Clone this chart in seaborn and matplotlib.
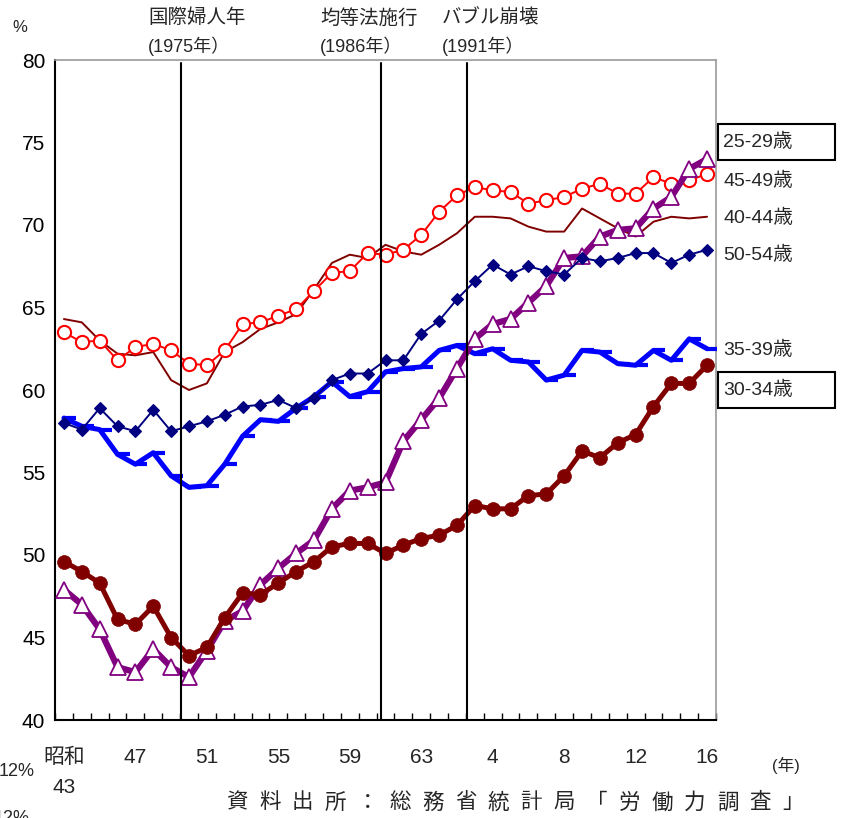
import numpy as np
import matplotlib
matplotlib.use("Agg")
import matplotlib.pyplot as plt
import seaborn as sns
from matplotlib.path import Path
from matplotlib.patches import Rectangle

# --- data (labour force participation rate of women by age, %) ---
years = list(range(1968, 2005))
tick_labels = ["昭和\n43", "47", "51", "55", "59", "63", "4", "8", "12", "16"]

age_25_29 = [47.9, 47.0, 45.5, 43.2, 42.9, 44.3, 43.2, 42.6, 44.2, 46.0,
             46.6, 48.2, 49.2, 50.1, 50.9, 52.8, 53.9, 54.1, 54.4, 56.9,
             58.2, 59.5, 61.3, 63.1, 64.0, 64.3, 65.3, 66.3, 68.0, 68.1,
             69.3, 69.7, 69.8, 71.0, 71.7, 73.4, 74.0]
age_30_34 = [49.6, 49.0, 48.3, 46.1, 45.8, 46.9, 45.0, 43.9, 44.4, 46.2,
             47.7, 47.6, 48.3, 49.0, 49.6, 50.5, 50.7, 50.7, 50.1, 50.6,
             51.0, 51.2, 51.8, 53.0, 52.8, 52.8, 53.6, 53.7, 54.8, 56.3,
             55.9, 56.8, 57.3, 59.0, 60.4, 60.4, 61.5]
age_35_39 = [58.3, 57.8, 57.6, 56.1, 55.5, 56.2, 54.8, 54.1, 54.2, 55.5,
             57.2, 58.2, 58.1, 58.9, 59.6, 60.5, 59.6, 59.9, 61.1, 61.3,
             61.4, 62.4, 62.7, 62.2, 62.5, 61.8, 61.7, 60.6, 60.9, 62.4,
             62.3, 61.6, 61.5, 62.4, 61.8, 63.1, 62.5]
age_40_44 = [64.3, 64.1, 63.0, 62.2, 62.1, 62.3, 60.6, 60.0, 60.4, 62.3,
             62.9, 63.7, 64.1, 64.6, 66.1, 67.7, 68.2, 68.0, 68.8, 68.4,
             68.2, 68.8, 69.5, 70.5, 70.5, 70.4, 69.9, 69.6, 69.6, 71.0,
             70.4, 69.8, 69.3, 70.2, 70.5, 70.4, 70.5]
age_45_49 = [63.5, 62.9, 63.0, 61.8, 62.6, 62.8, 62.4, 61.6, 61.5, 62.4,
             64.0, 64.1, 64.5, 64.9, 66.0, 67.1, 67.2, 68.3, 68.2, 68.5,
             69.4, 70.8, 71.8, 72.3, 72.1, 72.0, 71.3, 71.5, 71.7, 72.2,
             72.5, 71.9, 71.9, 72.9, 72.5, 72.7, 73.1]
age_50_54 = [58.0, 57.6, 58.9, 57.8, 57.5, 58.8, 57.5, 57.8, 58.1, 58.5,
             59.0, 59.1, 59.4, 58.9, 59.5, 60.6, 61.0, 61.0, 61.8, 61.8,
             63.4, 64.2, 65.5, 66.6, 67.6, 67.0, 67.5, 67.2, 67.0, 68.0,
             67.8, 68.0, 68.3, 68.3, 67.7, 68.2, 68.5]

events = [1975, 1986, 1991]
event_titles = ["国際婦人年", "均等法施行", "バブル崩壊"]
event_years = ["(1975年）", "(1986年）", "(1991年）"]

sns.set_style("white")
plt.rcParams['font.family'] = ['Liberation Sans', 'Noto Sans CJK JP']

W, H = 847, 818
fig = plt.figure(figsize=(W / 100, H / 100), dpi=100)
ax = fig.add_axes([55 / W, 98 / H, 661 / W, 660 / H])

idx = np.arange(len(years))

# excel-like dash marker sticking out to the right of each point
dash = Path([[0, 0], [1, 0]], [Path.MOVETO, Path.LINETO])

sns.lineplot(x=idx, y=age_35_39, ax=ax, color="#0000FF", lw=3.6,
             marker=dash, markersize=17, markeredgewidth=3,
             markeredgecolor="#0000FF", zorder=3)
sns.lineplot(x=idx, y=age_40_44, ax=ax, color="#800000", lw=1.4, zorder=3)
sns.lineplot(x=idx, y=age_45_49, ax=ax, color="#FF0000", lw=1.4,
             marker="o", markersize=9.5, markerfacecolor="white",
             markeredgecolor="#FF0000", markeredgewidth=1.5, zorder=4)
sns.lineplot(x=idx, y=age_25_29, ax=ax, color="#800080", lw=4.5,
             marker="^", markersize=11, markerfacecolor="white",
             markeredgecolor="#800080", markeredgewidth=1.3, zorder=5)
sns.lineplot(x=idx, y=age_30_34, ax=ax, color="#800000", lw=3.6,
             marker="o", markersize=10, markerfacecolor="#800000",
             markeredgecolor="#800000", markeredgewidth=0.5, zorder=6)
sns.lineplot(x=idx, y=age_50_54, ax=ax, color="#000080", lw=1.4,
             marker="D", markersize=6, markerfacecolor="#000080",
             markeredgecolor="#000080", markeredgewidth=0.8, zorder=7)

# event lines (drawn a bit left of the event year's point, as in the source)
for ev, off in zip(events, [-0.42, -0.25, -0.42]):
    ax.axvline(years.index(ev) + off, ymin=0, ymax=0.995,
               color="black", lw=1.5, zorder=8)

ax.set_xlim(-0.5, len(years) - 0.5)
ax.set_ylim(40, 80)
ax.set_xlabel("")
ax.set_ylabel("")

ax.set_yticks(range(40, 81, 5))
ax.tick_params(axis="y", direction="in", length=6, width=1, pad=7,
               labelsize=15, colors="black")
ax.set_xticks(idx[::4])
ax.set_xticklabels(tick_labels, linespacing=1.75)
ax.set_xticks(np.arange(-0.5, len(years), 1), minor=True)
ax.tick_params(axis="x", which="major", length=0, pad=20, labelsize=15)
ax.tick_params(axis="x", which="minor", direction="in", length=5,
               width=1, color="black", bottom=True)

for side in ["left", "bottom"]:
    ax.spines[side].set_color("black")
    ax.spines[side].set_linewidth(1.5)
for side in ["top", "right"]:
    ax.spines[side].set_color("#999999")
    ax.spines[side].set_linewidth(1.2)


def fx(px):
    return px / W


def fy(py):
    return 1 - py / H


# annotations above the chart
for x0, t, y in zip([148, 320, 442], event_titles, event_years):
    fig.text(fx(x0), fy(18), t, fontsize=14, ha="left", va="center")
    fig.text(fx(x0), fy(46), y, fontsize=13, ha="left", va="center")

fig.text(fx(12), fy(28), "%", fontsize=12, ha="left", va="center")

# series labels at the right
series_labels = ["25-29歳", "45-49歳", "40-44歳", "50-54歳", "35-39歳", "30-34歳"]
label_y = [142, 181, 218, 255, 350, 390]
for lab, y in zip(series_labels, label_y):
    fig.text(fx(723), fy(y), lab, fontsize=14, ha="left", va="center")
for y in [142, 390]:
    fig.patches.append(Rectangle((fx(718), fy(y + 18)), 117 / W, 36 / H,
                                 transform=fig.transFigure, fill=False,
                                 edgecolor="black", lw=1.5))

fig.text(fx(800), fy(765), "(年)", fontsize=12, ha="right", va="center")
fig.text(fx(35), fy(772), "12%", fontsize=13, ha="right", va="center")
fig.text(fx(30), fy(810), "12%", fontsize=13, ha="right", va="top")

# letter-spaced source note
source = "資料出所：総務省統計局「労働力調査」"
for k, ch in enumerate(source):
    fig.text(fx(237 + 32.7 * k), fy(803), ch, fontsize=15.5,
             ha="center", va="center")

fig.savefig("out.png", dpi=100)
